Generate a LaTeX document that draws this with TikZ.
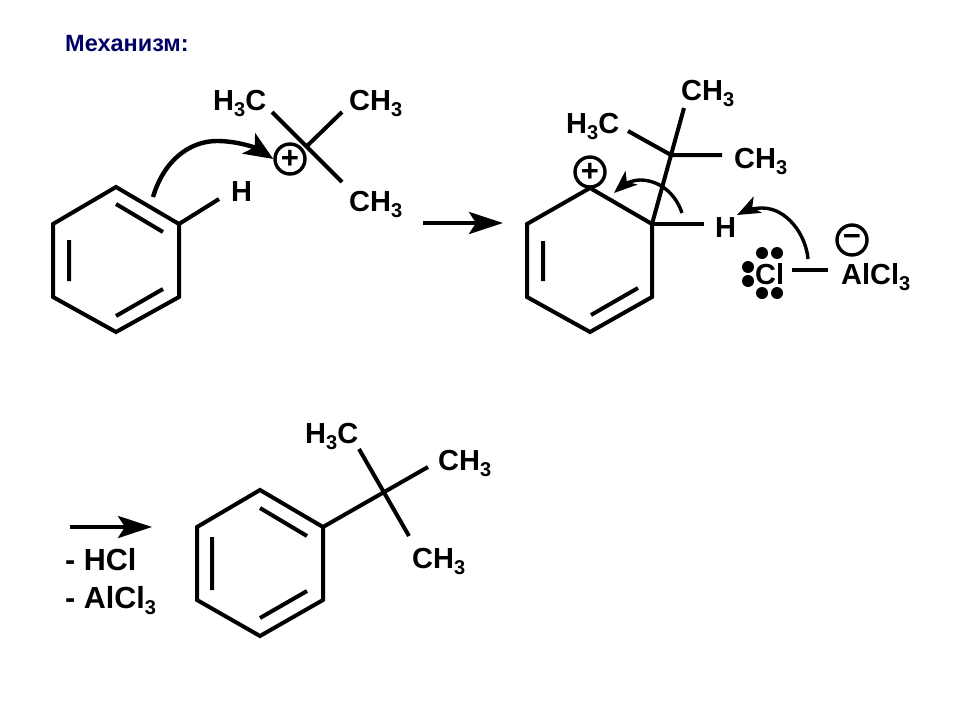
\documentclass[tikz,border=0pt]{standalone}
\usepackage{fontspec}
\setmainfont{Liberation Sans}
\usetikzlibrary{arrows.meta}
\newcommand{\lowthree}{\raisebox{-6pt}{\fontsize{20}{20}\selectfont 3}}
\tikzset{
  bond/.style={line width=4pt,line cap=butt,line join=miter},
  lbl/.style={anchor=base west,inner sep=0pt,font=\fontsize{29}{32}\selectfont\bfseries},
  biglbl/.style={anchor=base west,inner sep=0pt,font=\fontsize{30.5}{32}\selectfont\bfseries},
  titlelbl/.style={anchor=base west,inner sep=0pt,font=\fontsize{23.5}{26}\selectfont\bfseries,text=navyblue},
  charge/.style={circle,draw,line width=3.4pt,minimum size=30pt,inner sep=0pt,font=\fontsize{31}{31}\selectfont\bfseries},
  lonepair/.style={circle,fill=black,minimum size=12pt,inner sep=0pt},
  rxn/.style={line width=4pt,-{Stealth[length=34pt,width=22pt,inset=7pt]}},
  pusha/.style={line width=4.4pt,-{Stealth[length=29pt,width=24pt,inset=7pt]}},
  pushb/.style={line width=3.4pt,-{Stealth[length=23pt,width=18pt,inset=6pt]}}
}
\definecolor{navyblue}{RGB}{0,0,102}
\begin{document}
\begin{tikzpicture}[x=1pt,y=-1pt]
\useasboundingbox (0,0) rectangle (960,720);
\fill[white] (0,0) rectangle (960,720);
\node[titlelbl] (title) at (65,51) {Механизм:};

% --- benzene with H
\coordinate (a1) at (116,187); \coordinate (a2) at (179,224); \coordinate (a3) at (179,297);
\coordinate (a4) at (116,332); \coordinate (a5) at (53,297); \coordinate (a6) at (53,224);
\draw[bond] (a1)--(a2)--(a3)--(a4)--(a5)--(a6)--cycle;
\coordinate (a1i) at (116,204); \coordinate (a2i) at (163,232);
\coordinate (a3i) at (163,289); \coordinate (a4i) at (116,316);
\coordinate (a5i) at (69,281); \coordinate (a6i) at (69,240);
\draw[bond] (a1i)--(a2i) (a3i)--(a4i) (a5i)--(a6i);
\coordinate (aH) at (219,199);
\draw[bond] (a2)--(aH);
\node[lbl] (h1) at (231,201) {H};

% --- tert-butyl cation
\coordinate (bc) at (307,146);
\coordinate (b1) at (272,112); \coordinate (b2) at (342,112); \coordinate (b3) at (342,182);
\draw[bond] (b1)--(b3) (b2)--(bc);
\node[lbl] (b1t) at (213,110) {H\lowthree C};
\node[lbl] (b2t) at (349,110) {CH\lowthree};
\node[lbl] (b3t) at (349,211) {CH\lowthree};
\node[charge,fill=white] (plus1) at (290,159) {+};
\coordinate (p1s) at (153,197); \coordinate (p1m) at (217,141);
\draw[pusha] (p1s) .. controls (164,160) and (190,141) .. (p1m) .. controls (238,141) and (256,148) .. (plus1.west);

% --- reaction arrow 1
\coordinate (r1s) at (423,223); \coordinate (r1e) at (503,223);
\draw[rxn] (r1s)--(r1e);

% --- arenium ion
\coordinate (c1) at (590,188); \coordinate (c2) at (652,224); \coordinate (c3) at (652,297);
\coordinate (c4) at (590,332); \coordinate (c5) at (527,297); \coordinate (c6) at (527,224);
\draw[bond] (c1)--(c2)--(c3)--(c4)--(c5)--(c6)--cycle;
\coordinate (c3i) at (638,288); \coordinate (c4i) at (591,315);
\coordinate (c5i) at (543,281); \coordinate (c6i) at (543,241);
\draw[bond] (c3i)--(c4i) (c5i)--(c6i);
\coordinate (dc) at (671,155);
\coordinate (d1) at (684,108); \coordinate (d2) at (628,131); \coordinate (d3) at (722,155);
\draw[bond] (c2)--(d1) (d2)--(dc)--(d3);
\coordinate (cH) at (704,224);
\draw[bond] (c2)--(cH);
\node[lbl] (d1t) at (681,100) {CH\lowthree};
\node[lbl] (d2t) at (566,133) {H\lowthree C};
\node[lbl] (d3t) at (734,168) {CH\lowthree};
\node[lbl] (h2) at (715,237) {H};
\node[charge] (plus2) at (590,172) {+};
\coordinate (p2s) at (682,213); \coordinate (p2m) at (640,180); \coordinate (p2e) at (614,193);
\draw[pushb] (p2s) .. controls (675,192) and (658,180) .. (p2m) .. controls (631,180) and (622,186) .. (p2e);

% --- chloride
\node[lbl] (cl) at (755,284) {Cl};
\node[lbl] (alcl) at (841,284) {AlCl\lowthree};
\coordinate (clb1) at (792,270); \coordinate (clb2) at (828,270);
\draw[bond] (clb1)--(clb2);
\node[charge] (minus) at (852,240) {−};
\node[lonepair] (e1) at (762,253) {}; \node[lonepair] (e2) at (777,253) {};
\node[lonepair] (e3) at (762,293) {}; \node[lonepair] (e4) at (777,293) {};
\node[lonepair] (e5) at (748,267) {}; \node[lonepair] (e6) at (748,281) {};
\coordinate (p3s) at (808,259); \coordinate (p3m) at (762,208); \coordinate (p3e) at (737,215);
\draw[pushb] (p3s) .. controls (806,235) and (787,208) .. (p3m) .. controls (754,208) and (745,211) .. (p3e);

% --- product
\coordinate (f1) at (260,490); \coordinate (f2) at (323,527); \coordinate (f3) at (323,600);
\coordinate (f4) at (260,636); \coordinate (f5) at (197,600); \coordinate (f6) at (197,527);
\draw[bond] (f1)--(f2)--(f3)--(f4)--(f5)--(f6)--cycle;
\coordinate (f1i) at (260,508); \coordinate (f2i) at (307,536);
\coordinate (f3i) at (307,591); \coordinate (f4i) at (260,618);
\coordinate (f5i) at (212,590); \coordinate (f6i) at (212,537);
\draw[bond] (f1i)--(f2i) (f3i)--(f4i) (f5i)--(f6i);
\coordinate (g1) at (359,449); \coordinate (g2) at (428,467); \coordinate (g3) at (409,536);
\draw[bond] (f2)--(g2) (g1)--(g3);
\node[lbl] (g1t) at (305,443) {H\lowthree C};
\node[lbl] (g2t) at (438,470) {CH\lowthree};
\node[lbl] (g3t) at (412,568) {CH\lowthree};

% --- reaction arrow 2
\coordinate (r2s) at (70,527); \coordinate (r2e) at (152,527);
\draw[rxn] (r2s)--(r2e);
\node[biglbl] (m1) at (65,570) {- HCl};
\node[biglbl] (m2) at (65,608) {- AlCl\lowthree};
\end{tikzpicture}
\end{document}
